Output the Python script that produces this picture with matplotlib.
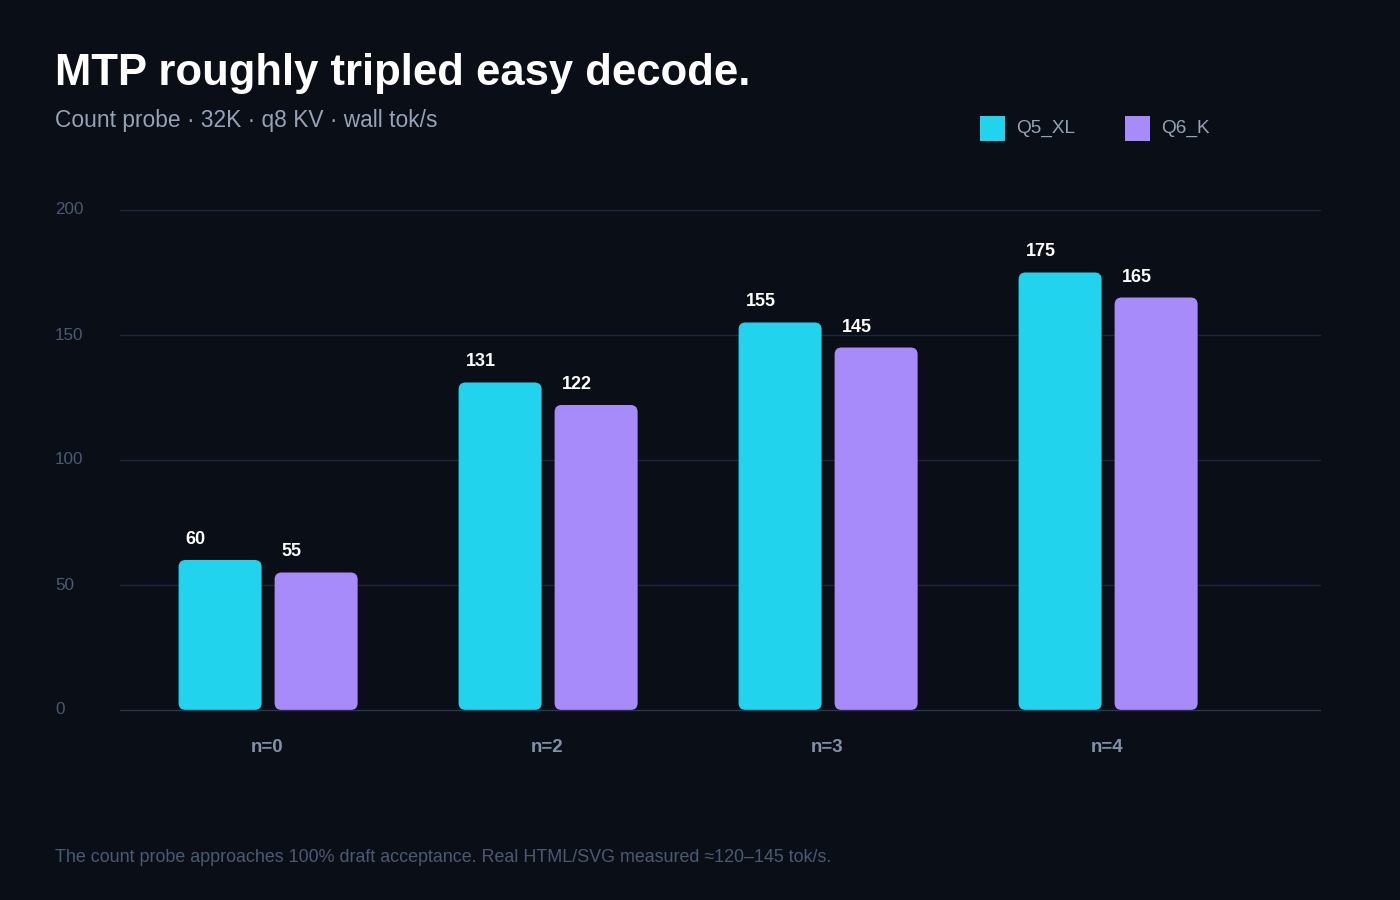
import matplotlib
matplotlib.use("Agg")
import matplotlib.pyplot as plt
from matplotlib.patches import FancyBboxPatch, Rectangle
import numpy as np

categories = ["n=0", "n=2", "n=3", "n=4"]
series_names = ["Q5_XL", "Q6_K"]
q5_xl = [60, 131, 155, 175]
q6_k = [55, 122, 145, 165]
yticks = [0, 50, 100, 150, 200]

BG = "#0a0e17"
CYAN = "#22d3ee"
PURPLE = "#a78bfa"
GRID = "#1e293b"
colors = [CYAN, PURPLE]

plt.rcParams["font.family"] = ["Liberation Sans", "DejaVu Sans"]

fig = plt.figure(figsize=(14, 9), dpi=100, facecolor=BG)
ax = fig.add_axes([120 / 1400, 1 - 710 / 900, 1200 / 1400, 500 / 900])
ax.set_facecolor(BG)
ax.set_xlim(-0.529, -0.529 + 1200 / 280)
ax.set_ylim(0, 200)
for s in ax.spines.values():
    s.set_visible(False)
ax.set_xticks([])
ax.set_yticks([])

for t in yticks:
    ax.axhline(t, color="#2b3649" if t == 0 else GRID, lw=1,
               zorder=3 if t == 0 else 0, clip_on=False)
    fig.text(55 / 1400, 1 - (710 - t * 2.5) / 900, str(t), color="#4b5a73",
             fontsize=12.3, ha="left", va="center")

width = 83 / 280
offs = [-48 / 280, 48 / 280]
x = np.arange(len(categories))
for vals, off, c in zip([q5_xl, q6_k], offs, colors):
    for xi, v in zip(x, vals):
        left = xi + off - width / 2
        p = FancyBboxPatch((left, 0), width, v,
                           boxstyle="round,pad=0,rounding_size=0.025",
                           mutation_aspect=112, fc=c, ec="none", zorder=2)
        ax.add_patch(p)
        ax.annotate(str(v), (left, v), xytext=(7, 16), textcoords="offset pixels",
                    color="white", fontsize=13, fontweight="bold",
                    ha="left", va="baseline")

for xi, lab in zip(x, categories):
    ax.annotate(lab, (xi - 1 / 280, 0), xytext=(0, -42), textcoords="offset pixels",
                color="#8391a8", fontsize=13.5, fontweight="bold",
                ha="center", va="baseline", annotation_clip=False)

fig.text(55 / 1400, 1 - 73 / 900, "MTP roughly tripled easy decode.", color="white",
         fontsize=31.4, fontweight="bold", ha="left", va="center")
fig.text(55 / 1400, 1 - 121 / 900, "Count probe · 32K · q8 KV · wall tok/s",
         color="#94a3b8", fontsize=16.4, ha="left", va="center")

# legend
for i, (name, c) in enumerate(zip(series_names, colors)):
    lx = 980 + i * 145
    fig.patches.append(Rectangle((lx / 1400, 1 - 141 / 900), 25 / 1400, 25 / 900,
                                 transform=fig.transFigure, fc=c, ec="none"))
    fig.text((lx + 36) / 1400, 1 - 128 / 900, name, color="#94a3b8",
             fontsize=13.7, ha="left", va="center")

fig.text(55 / 1400, 1 - 857 / 900,
         "The count probe approaches 100% draft acceptance. Real HTML/SVG measured \u2248120\u2013145 tok/s.",
         color="#4b5a73", fontsize=12.9, ha="left", va="center")

fig.savefig("out.png", dpi=100, facecolor=BG)
